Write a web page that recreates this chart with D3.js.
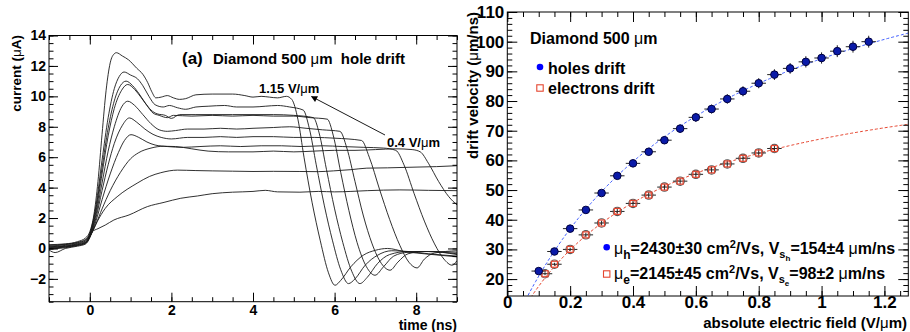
<!DOCTYPE html>
<html>
<head>
<meta charset="utf-8">
<script src="https://cdn.jsdelivr.net/npm/d3@7"></script>
<style>
  body { margin: 0; background: #fff; }
  svg { display: block; font-family: "Liberation Sans", Arial, Helvetica, sans-serif; font-weight: bold; }
</style>
</head>
<body>
<svg id="chart" width="910" height="332"></svg>
<script>
// ---- left panel: current pulses (time ns, current uA), one trace per field ----
const trace1 = [[-1,0.25],[-0.6,0.3],[-0.3,0.45],[-0.1,0.7],[0,1.1],[0.1,2.2],[0.2,4.4],[0.3,7.5],[0.4,10.4],[0.5,12.2],[0.6,12.8],[0.65,12.87],[0.8,12.65],[0.95,12.4],[1.15,11.85],[1.3,11.45],[1.42,10.9],[1.52,10.3],[1.62,9.9],[1.75,9.95],[1.9,10.05],[2.05,9.9],[2.2,9.8],[2.35,9.85],[2.6,10.1],[3.0,10.15],[3.5,10.15],[3.8,10.05],[4.0,9.95],[4.2,10.0],[4.4,9.95],[4.6,9.9],[4.82,10.0],[4.95,9.8],[5.1,8.5],[5.25,6.0],[5.45,3.0],[5.65,0.5],[5.85,-1.6],[6.01,-2.42],[6.15,-2.1],[6.4,-1.2],[6.7,-0.45],[7.0,-0.12],[7.3,0.0],[7.7,-0.2],[8.2,-0.35],[8.6,-0.45],[9.0,-0.55]];
const trace2 = [[-1,0.2],[-0.6,0.28],[-0.3,0.4],[-0.1,0.6],[0,1.0],[0.15,2.8],[0.3,5.8],[0.45,8.6],[0.6,10.5],[0.72,11.3],[0.84,11.6],[1.0,11.4],[1.17,11.15],[1.3,10.7],[1.45,10.0],[1.6,9.45],[1.8,9.3],[1.95,9.4],[2.15,9.25],[2.35,9.15],[2.6,9.3],[2.9,9.35],[3.3,9.4],[3.6,9.3],[4.0,9.3],[4.3,9.35],[4.6,9.4],[4.9,9.3],[5.23,9.1],[5.38,7.9],[5.55,5.5],[5.75,2.8],[5.95,0.5],[6.15,-1.4],[6.34,-2.31],[6.5,-2.0],[6.75,-1.1],[7.05,-0.45],[7.4,-0.15],[7.8,-0.2],[8.3,-0.35],[9.0,-0.5]];
const trace3 = [[-1,0.15],[-0.6,0.25],[-0.3,0.38],[-0.1,0.55],[0,0.95],[0.15,2.6],[0.3,5.3],[0.45,7.9],[0.6,9.7],[0.75,10.7],[0.89,11.0],[1.05,10.7],[1.2,10.2],[1.35,9.6],[1.5,9.1],[1.65,8.85],[1.85,8.75],[2.0,8.55],[2.2,8.8],[2.6,8.8],[3.0,8.8],[3.5,8.8],[4.0,8.8],[4.5,8.8],[5.0,8.75],[5.48,8.6],[5.62,7.6],[5.8,5.2],[6.0,2.6],[6.2,0.4],[6.42,-1.5],[6.62,-2.31],[6.8,-1.9],[7.05,-1.0],[7.35,-0.4],[7.8,-0.2],[8.3,-0.2],[9.0,-0.4]];
const trace4 = [[-1,0.1],[-0.6,0.2],[-0.3,0.33],[-0.1,0.5],[0,0.9],[0.15,2.4],[0.3,4.9],[0.45,7.4],[0.6,9.2],[0.78,10.4],[0.93,10.78],[1.1,10.45],[1.25,9.95],[1.4,9.4],[1.55,8.9],[1.7,8.75],[1.9,8.6],[2.05,8.75],[2.5,8.7],[3.0,8.75],[3.5,8.7],[4.0,8.75],[4.5,8.7],[5.0,8.7],[5.4,8.6],[5.82,8.5],[5.97,7.4],[6.15,5.0],[6.35,2.5],[6.55,0.4],[6.78,-1.2],[6.99,-1.76],[7.2,-1.2],[7.45,-0.5],[7.8,-0.25],[8.3,-0.2],[9.0,-0.35]];
const trace5 = [[-1,0.05],[-0.6,0.15],[-0.3,0.3],[-0.1,0.45],[0,0.85],[0.15,2.2],[0.3,4.3],[0.45,6.4],[0.6,8.0],[0.78,9.3],[0.93,9.68],[1.1,9.4],[1.3,8.8],[1.5,8.2],[1.7,7.8],[1.9,7.7],[2.1,7.75],[2.4,7.85],[2.8,7.85],[3.2,7.9],[3.6,7.85],[4.0,7.9],[4.5,7.95],[4.9,8.0],[5.3,7.9],[5.7,7.8],[6.13,7.7],[6.3,6.6],[6.5,4.4],[6.7,2.2],[6.92,0.3],[7.15,-1.0],[7.36,-1.43],[7.55,-0.9],[7.8,-0.35],[8.2,-0.2],[9.0,-0.25]];
const trace6 = [[-1,0.0],[-0.6,0.1],[-0.3,0.25],[-0.1,0.4],[0,0.8],[0.15,2.0],[0.3,3.8],[0.45,5.5],[0.6,6.9],[0.8,8.1],[0.97,8.58],[1.15,8.3],[1.35,7.85],[1.55,7.5],[1.75,7.3],[2.0,7.2],[2.4,7.3],[2.8,7.3],[3.2,7.35],[3.6,7.3],[4.0,7.35],[4.5,7.35],[5.0,7.3],[5.5,7.3],[6.0,7.25],[6.66,7.1],[6.85,6.0],[7.1,3.9],[7.35,1.9],[7.6,0.2],[7.82,-0.9],[8.02,-1.28],[8.2,-0.7],[8.45,-0.3],[9.0,-0.15]];
const trace7 = [[-1,-0.05],[-0.6,0.05],[-0.3,0.2],[-0.1,0.35],[0,0.75],[0.15,1.8],[0.3,3.2],[0.5,4.9],[0.7,6.3],[0.85,7.1],[1.01,7.48],[1.2,7.3],[1.4,7.0],[1.6,6.8],[1.9,6.7],[2.3,6.65],[2.7,6.7],[3.2,6.75],[3.7,6.7],[4.2,6.75],[4.7,6.75],[5.2,6.7],[5.7,6.75],[6.2,6.7],[6.7,6.65],[7.2,6.6],[7.5,6.45],[7.7,5.5],[7.95,3.6],[8.2,1.8],[8.45,0.3],[8.68,-0.7],[8.88,-1.1],[9.0,-0.8]];
const trace8 = [[-1,0.1],[-0.6,0.15],[-0.3,0.25],[-0.1,0.4],[0,0.8],[0.15,1.6],[0.3,2.6],[0.5,3.8],[0.75,5.0],[1.0,5.9],[1.2,6.3],[1.5,6.6],[1.8,6.72],[2.1,6.7],[2.5,6.55],[2.9,6.4],[3.4,6.35],[4.0,6.35],[4.5,6.4],[5.0,6.35],[5.5,6.4],[6.0,6.45],[6.5,6.45],[7.0,6.5],[7.5,6.55],[7.9,6.5],[8.1,6.35],[8.3,5.6],[8.55,4.4],[8.8,3.4],[9.0,2.86]];
const trace9 = [[-1,0.0],[-0.6,0.1],[-0.3,0.2],[-0.1,0.35],[0,0.75],[0.18,1.76],[0.38,2.64],[0.67,3.4],[1.16,4.29],[1.46,4.73],[1.74,4.98],[2.15,5.15],[2.6,5.12],[3.0,5.1],[3.5,5.08],[4.0,5.06],[4.5,5.07],[5.15,5.06],[5.6,5.05],[5.97,5.1],[6.4,5.18],[6.79,5.28],[7.3,5.3],[8.02,5.35],[8.5,5.38],[9.0,5.44]];
const trace10 = [[-1,-0.1],[-0.85,-0.27],[-0.6,0.0],[-0.3,0.15],[-0.1,0.3],[0,0.7],[0.06,1.1],[0.2,1.3],[0.38,1.54],[0.59,1.87],[0.96,2.2],[1.41,2.75],[1.82,3.03],[2.23,3.3],[2.64,3.45],[3.0,3.6],[3.5,3.7],[4.0,3.75],[4.3,3.82],[4.6,3.72],[5.15,3.7],[5.6,3.75],[6.0,3.72],[6.4,3.75],[6.8,3.8],[7.6,3.85],[8.3,3.82],[9.0,3.8]];
const traces = [trace1, trace2, trace3, trace4, trace5, trace6, trace7, trace8, trace9, trace10];

const leftXDomain = [-1, 9];
const leftYDomain = [-3.5, 14];
const leftXTicks = [0, 2, 4, 6, 8];
const leftYTicks = [-2, 0, 2, 4, 6, 8, 10, 12, 14];

// ---- right panel: drift velocity vs field ----
const holesField = [0.1,0.15,0.2,0.25,0.3,0.35,0.4,0.45,0.5,0.55,0.6,0.65,0.7,0.75,0.8,0.85,0.9,0.95,1.0,1.05,1.1,1.15];
const holesVel   = [22.7,29.3,37,43.3,49,54.8,59,62.9,66.8,70.7,74.5,77.3,80.7,83.3,86,88.9,91,93.2,94.5,96.8,98.3,100];
const holesErr   = [0.6,0.7,0.8,0.9,1.0,1.1,1.2,1.3,1.3,1.4,1.5,1.5,1.6,1.7,1.7,1.8,1.8,1.9,1.9,2.0,2.0,2.0];
const electronsField = [0.12,0.15,0.2,0.25,0.3,0.35,0.4,0.45,0.5,0.55,0.6,0.65,0.7,0.75,0.8,0.85];
const electronsVel   = [21.8,25,30,34.9,38.9,42.8,45.5,48.3,51,53,55.3,56.8,58.8,60.7,62.5,64.0];
const electronsErr   = [0.5,0.5,0.6,0.7,0.8,0.8,0.9,1.0,1.0,1.0,1.1,1.1,1.2,1.2,1.3,1.3];
const fieldErr = 0.023;

// fit parameters from the legend (cm^2/Vs, um/ns)
const holesMu = 2430, holesVs = 154;
const electronsMu = 2145, electronsVs = 98;

const rightXDomain = [0, 1.276];
const rightYDomain = [14.3, 110];
const rightXTicks = [0, 0.2, 0.4, 0.6, 0.8, 1, 1.2];
const rightYTicks = [20, 30, 40, 50, 60, 70, 80, 90, 100, 110];

const svg = d3.select("#chart");

const xL = d3.scaleLinear().domain(leftXDomain).range([49, 457]);
const yL = d3.scaleLinear().domain(leftYDomain).range([301.7, 35.5]);
const xR = d3.scaleLinear().domain(rightXDomain).range([507.3, 908.3]);
const yR = d3.scaleLinear().domain(rightYDomain).range([296, 12]);

// ROOT-like frame: ticks inside on all four sides, labels on bottom/left
function drawFrame(x, y, o) {
  const [x0, x1] = x.range(), [y1, y0] = y.range();
  const g = svg.append("g");
  const sides = [
    [d3.axisBottom, x, `translate(0,${y1})`, o.xMajor, o.xMinor, o.xFmt, o.xPad],
    [d3.axisTop, x, `translate(0,${y0})`, o.xMajor, o.xMinor, null, 0],
    [d3.axisLeft, y, `translate(${x0},0)`, o.yMajor, o.yMinor, o.yFmt, o.yPad],
    [d3.axisRight, y, `translate(${x1},0)`, o.yMajor, o.yMinor, null, 0]
  ];
  sides.forEach(([axisFn, sc, tr, major, minor, fmt, pad]) => {
    g.append("g").attr("transform", tr)
      .call(axisFn(sc).tickValues(minor).tickSize(-o.minLen).tickFormat(""))
      .call(s => s.select(".domain").remove());
    g.append("g").attr("transform", tr)
      .call(axisFn(sc).tickValues(major).tickSize(-o.majLen).tickPadding(pad).tickFormat(fmt || ""))
      .call(s => s.select(".domain").remove())
      .attr("font-family", null)
      .attr("font-size", o.fontSize);
  });
  g.selectAll("line").attr("stroke", "#000").attr("stroke-width", 1);
  g.append("rect")
    .attr("x", x0).attr("y", y0)
    .attr("width", x1 - x0).attr("height", y1 - y0)
    .attr("fill", "none").attr("stroke", "#000").attr("stroke-width", 1);
}

function clip(id, x, y) {
  const [x0, x1] = x.range(), [y1, y0] = y.range();
  svg.append("clipPath").attr("id", id)
    .append("rect").attr("x", x0).attr("y", y0).attr("width", x1 - x0).attr("height", y1 - y0);
}

// ---------- left panel ----------
clip("clipL", xL, yL);
const traceLine = d3.line()
  .x(d => xL(d[0]))
  .y(d => yL(d[1]))
  .curve(d3.curveMonotoneX);

svg.append("g").attr("clip-path", "url(#clipL)")
  .selectAll("path")
  .data(traces)
  .join("path")
    .attr("d", traceLine)
    .attr("fill", "none")
    .attr("stroke", "#1a1a1a")
    .attr("stroke-width", 0.9);

drawFrame(xL, yL, {
  xMajor: leftXTicks, xMinor: d3.range(-1, 9.01, 0.5),
  yMajor: leftYTicks, yMinor: d3.range(-3.5, 14.01, 0.5),
  majLen: 9, minLen: 4.5, fontSize: 14,
  xFmt: d3.format("d"), yFmt: d3.format("d"), xPad: 3, yPad: 3
});

svg.append("text")
  .attr("transform", "translate(21,35) rotate(-90)")
  .attr("text-anchor", "end")
  .attr("font-size", 13.5)
  .call(t => {
    t.append("tspan").text("current (");
    t.append("tspan").attr("font-weight", "normal").text("μ");
    t.append("tspan").text("A)");
  });

svg.append("text")
  .attr("x", 457).attr("y", 329.5)
  .attr("text-anchor", "end")
  .attr("font-size", 14)
  .text("time (ns)");

svg.append("text")
  .attr("x", 182).attr("y", 63.5)
  .attr("font-size", 17)
  .text("(a)");

svg.append("text")
  .attr("x", 213).attr("y", 63.5)
  .attr("font-size", 15)
  .attr("xml:space", "preserve")
  .call(t => {
    t.append("tspan").text("Diamond 500 ");
    t.append("tspan").attr("font-weight", "normal").text("μ");
    t.append("tspan").text("m  hole drift");
  });

function fieldLabel(x, y, value) {
  svg.append("text")
    .attr("x", x).attr("y", y)
    .attr("font-size", 13)
    .call(t => {
      t.append("tspan").text(value + " V/");
      t.append("tspan").attr("font-weight", "normal").text("μ");
      t.append("tspan").text("m");
    });
}
fieldLabel(259, 93, "1.15");
fieldLabel(387, 146.5, "0.4");

// arrow from the 0.4 label towards the 1.15 label
svg.append("defs").append("marker")
  .attr("id", "arrowHead")
  .attr("viewBox", "0 0 10 10")
  .attr("refX", 9).attr("refY", 5)
  .attr("markerWidth", 9).attr("markerHeight", 7)
  .attr("orient", "auto")
  .append("path").attr("d", "M0,0 L10,5 L0,10 Z").attr("fill", "#000");

svg.append("line")
  .attr("x1", 385).attr("y1", 135)
  .attr("x2", 311.5).attr("y2", 96.5)
  .attr("stroke", "#000").attr("stroke-width", 0.9)
  .attr("marker-end", "url(#arrowHead)");

// ---------- right panel ----------
clip("clipR", xR, yR);

const driftVel = (mu, vs) => e => (0.1 * mu * e) / (1 + 0.1 * mu * e / vs);
const fieldGrid = d3.range(0.01, rightXDomain[1] + 0.005, 0.005);
const fitLine = d3.line().x(d => xR(d[0])).y(d => yR(d[1]));

const fits = [
  {f: driftVel(holesMu, holesVs), color: "#3f5dff"},
  {f: driftVel(electronsMu, electronsVs), color: "#e5452f"}
];
svg.append("g").attr("clip-path", "url(#clipR)")
  .selectAll("path")
  .data(fits)
  .join("path")
    .attr("d", d => fitLine(fieldGrid.map(e => [e, d.f(e)])))
    .attr("fill", "none")
    .attr("stroke", d => d.color)
    .attr("stroke-width", 1)
    .attr("stroke-dasharray", "3,2");

function errorBars(fields, vels, errs) {
  const g = svg.append("g").attr("stroke", "#222").attr("stroke-width", 1);
  fields.forEach((e, i) => {
    g.append("line")
      .attr("x1", xR(e)).attr("x2", xR(e))
      .attr("y1", yR(vels[i] - errs[i])).attr("y2", yR(vels[i] + errs[i]));
    g.append("line")
      .attr("x1", xR(e - fieldErr)).attr("x2", xR(e + fieldErr))
      .attr("y1", yR(vels[i])).attr("y2", yR(vels[i]));
  });
}

errorBars(electronsField, electronsVel, electronsErr);
svg.append("g").selectAll("circle")
  .data(d3.zip(electronsField, electronsVel))
  .join("circle")
    .attr("cx", d => xR(d[0])).attr("cy", d => yR(d[1]))
    .attr("r", 4.2)
    .attr("fill", "none").attr("stroke", "#555").attr("stroke-width", 1.1);
svg.append("g").selectAll("rect")
  .data(d3.zip(electronsField, electronsVel))
  .join("rect")
    .attr("x", d => xR(d[0]) - 3).attr("y", d => yR(d[1]) - 3)
    .attr("width", 6).attr("height", 6)
    .attr("fill", "none").attr("stroke", "#e5452f").attr("stroke-width", 1.2);

errorBars(holesField, holesVel, holesErr);
svg.append("g").selectAll("circle")
  .data(d3.zip(holesField, holesVel))
  .join("circle")
    .attr("cx", d => xR(d[0])).attr("cy", d => yR(d[1]))
    .attr("r", 3.8)
    .attr("fill", "#0a1aa8").attr("stroke", "#000040").attr("stroke-width", 1);

drawFrame(xR, yR, {
  xMajor: rightXTicks, xMinor: d3.range(0, 1.2751, 0.05),
  yMajor: rightYTicks, yMinor: d3.range(16, 110.1, 2),
  majLen: 10, minLen: 5, fontSize: 17,
  xFmt: d3.format("~g"), yFmt: d3.format("d"), xPad: 0, yPad: 3
});

svg.append("text")
  .attr("transform", "translate(478,12) rotate(-90)")
  .attr("text-anchor", "end")
  .attr("font-size", 15)
  .call(t => {
    t.append("tspan").text("drift velocity (");
    t.append("tspan").attr("font-weight", "normal").text("μ");
    t.append("tspan").text("m/ns)");
  });

svg.append("text")
  .attr("x", 907).attr("y", 328)
  .attr("text-anchor", "end")
  .attr("font-size", 15)
  .call(t => {
    t.append("tspan").text("absolute electric field (V/");
    t.append("tspan").attr("font-weight", "normal").text("μ");
    t.append("tspan").text("m)");
  });

// legend (top-left)
svg.append("text")
  .attr("x", 530).attr("y", 44)
  .attr("font-size", 16)
  .call(t => {
    t.append("tspan").text("Diamond 500 ");
    t.append("tspan").attr("font-weight", "normal").text("μ");
    t.append("tspan").text("m");
  });

function holeMarker(x, y) {
  svg.append("circle").attr("cx", x).attr("cy", y).attr("r", 3.3).attr("fill", "#0000ff");
}
function electronMarker(x, y) {
  svg.append("rect").attr("x", x - 3.2).attr("y", y - 3.2).attr("width", 6.4).attr("height", 6.4)
    .attr("fill", "none").attr("stroke", "#e5452f").attr("stroke-width", 1.1);
}

holeMarker(540, 67);
svg.append("text").attr("x", 548).attr("y", 74).attr("font-size", 16).text("holes drift");
electronMarker(540, 88);
svg.append("text").attr("x", 548).attr("y", 94).attr("font-size", 16).text("electrons drift");

// fit results legend
function fitLabel(y, carrier, mu, vs) {
  svg.append("text")
    .attr("x", 614).attr("y", y)
    .attr("font-size", 16)
    .call(t => {
      t.append("tspan").attr("font-weight", "normal").text("μ");
      t.append("tspan").attr("font-size", 12).attr("dy", 5).text(carrier);
      t.append("tspan").attr("dy", -5).text(`=${mu} cm`);
      t.append("tspan").attr("font-size", 11).attr("dy", -6).text("2");
      t.append("tspan").attr("dy", 6).text("/Vs, V");
      t.append("tspan").attr("font-size", 11).attr("dy", 4).text("s");
      t.append("tspan").attr("font-size", 8).attr("dy", 3).text(carrier);
      t.append("tspan").attr("dy", -7).text(`=${vs} `);
      t.append("tspan").attr("font-weight", "normal").text("μ");
      t.append("tspan").text("m/ns");
    });
}
holeMarker(606.7, 247.3);
fitLabel(254, "h", "2430±30", "154±4");
electronMarker(606.7, 274);
fitLabel(278.5, "e", "2145±45", "98±2");
</script>
</body>
</html>
